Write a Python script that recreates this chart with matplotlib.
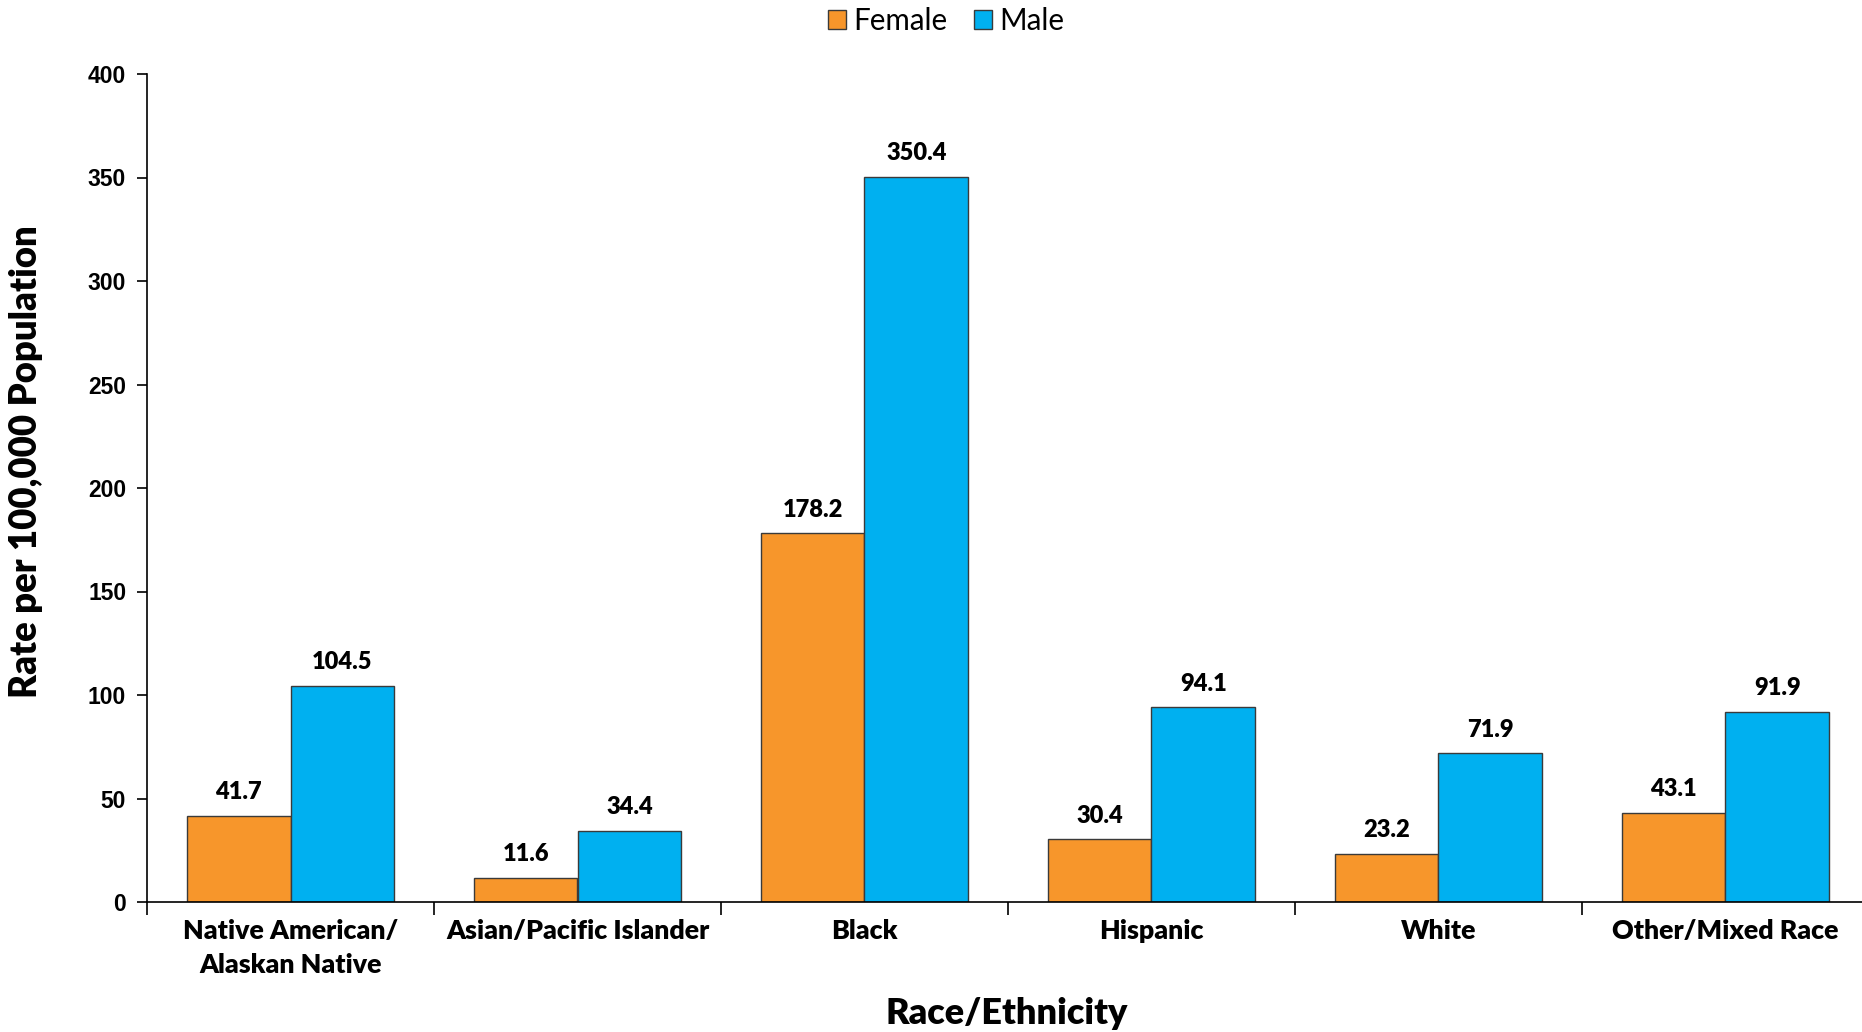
import matplotlib
matplotlib.use("Agg")
import matplotlib.pyplot as plt
import numpy as np
from matplotlib.patches import Patch

categories = ["Native American/\nAlaskan Native", "Asian/Pacific Islander", "Black",
              "Hispanic", "White", "Other/Mixed Race"]
female = [41.7, 11.6, 178.2, 30.4, 23.2, 43.1]
male = [104.5, 34.4, 350.4, 94.1, 71.9, 91.9]
yticks = [0, 50, 100, 150, 200, 250, 300, 350, 400]

FEMALE_COLOR = "#F7962B"
MALE_COLOR = "#00B0F0"
EDGE = "#3A3A3A"
LABEL_FONT = ["Lato", "DejaVu Sans"]
TICK_FONT = ["Liberation Sans", "DejaVu Sans"]
HEAVY = "heavy"

W, H = 1862, 1032
fig = plt.figure(figsize=(W / 100, H / 100), dpi=100)
left, right = 147, 1869
top, bottom = 74, 902
ax = fig.add_axes([left / W, 1 - bottom / H, (right - left) / W, (bottom - top) / H])

x = np.arange(len(categories))
bw = 0.362
ax.bar(x - bw / 2, female, bw, color=FEMALE_COLOR, edgecolor=EDGE, linewidth=1.0, label="Female")
ax.bar(x + bw / 2, male, bw, color=MALE_COLOR, edgecolor=EDGE, linewidth=1.0, label="Male")

for xi, v in zip(x - bw / 2, female):
    ax.annotate(f"{v:.1f}", (xi, v), xytext=(0, 9), textcoords="offset points",
                ha="center", va="bottom", fontsize=17, fontweight=HEAVY, family=LABEL_FONT)
for xi, v in zip(x + bw / 2, male):
    ax.annotate(f"{v:.1f}", (xi, v), xytext=(0, 9), textcoords="offset points",
                ha="center", va="bottom", fontsize=17, fontweight=HEAVY, family=LABEL_FONT)

ax.set_xlim(-0.5, len(categories) - 0.5)
ax.set_ylim(0, 400)
ax.set_yticks(yticks)
ax.set_yticklabels([str(t) for t in yticks], fontsize=16.5, fontweight="bold", family=TICK_FONT)
ax.tick_params(axis="y", direction="out", length=7, width=1.2, pad=8, colors="black")

ax.set_xticks(x)
ax.set_xticklabels(categories, fontsize=19.3, fontweight=HEAVY, family=LABEL_FONT, linespacing=1.5)
ax.tick_params(axis="x", which="major", length=0, pad=12)
ax.set_xticks(np.arange(-0.5, len(categories)), minor=True)
ax.tick_params(axis="x", which="minor", direction="out", length=9, width=1.2, color="black")

for s in ["top", "right"]:
    ax.spines[s].set_visible(False)
for s in ["left", "bottom"]:
    ax.spines[s].set_linewidth(1.2)
    ax.spines[s].set_color("black")

fig.text(1007 / W, 1 - 1013 / H, "Race/Ethnicity", ha="center", va="center",
         fontsize=25.9, fontweight=HEAVY, family=LABEL_FONT)
fig.text(26 / W, 1 - 462 / H, "Rate per 100,000 Population", ha="center", va="center",
         rotation=90, fontsize=26.3, fontweight=HEAVY, family=LABEL_FONT)

handles = [Patch(facecolor=FEMALE_COLOR, edgecolor=EDGE, linewidth=1.0, label="Female"),
           Patch(facecolor=MALE_COLOR, edgecolor=EDGE, linewidth=1.0, label="Male")]
fig.legend(handles=handles, loc="center", bbox_to_anchor=(946 / W, 1 - 21 / H), ncol=2,
           frameon=False, prop={"family": LABEL_FONT, "size": 21.3},
           handlelength=0.6, handleheight=0.6, handletextpad=0.25, columnspacing=0.9)

fig.savefig("out.png", dpi=100)
